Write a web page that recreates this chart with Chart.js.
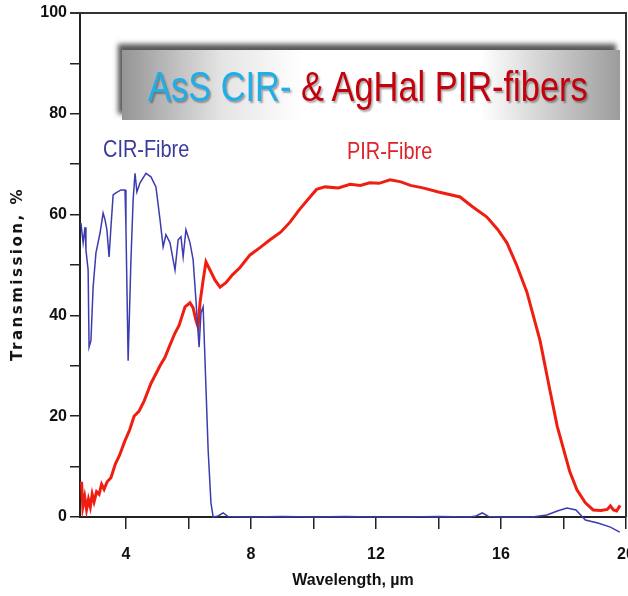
<!DOCTYPE html>
<html>
<head>
<meta charset="utf-8">
<script src="https://cdn.jsdelivr.net/npm/chart.js@4.4.1/dist/chart.umd.min.js"></script>
<style>
  html, body { margin: 0; padding: 0; background: #fff; overflow: hidden; }
  #wrap { position: relative; width: 660px; height: 596px; }
  #banner {
    position: absolute; left: 122px; top: 50px; width: 498px; height: 70px;
    background: linear-gradient(to right, #959595 0%, #e4e4e4 20%, #ffffff 36%, #ffffff 72%, #9c9c9c 100%);
    box-shadow: -4px -6px 5px rgba(70, 70, 70, 0.9);
    overflow: hidden;
  }
  #banner .txt {
    position: absolute; left: 26px; top: 0; line-height: 72px;
    font-family: 'Liberation Sans', Arial, sans-serif; font-size: 43px; white-space: nowrap;
    transform: scaleX(0.8); transform-origin: 0 0;
    text-shadow: 2px 2px 2px rgba(0, 0, 0, 0.35);
  }
  #banner .cir { color: #1eaee8; }
  #banner .pir { color: #c4000c; }
  .lbl {
    position: absolute; font-family: 'Liberation Sans', Arial, sans-serif;
    font-size: 24px; line-height: 24px; white-space: nowrap;
    transform: scaleX(0.83); transform-origin: 0 0;
  }
  #ytitle {
    position: absolute; left: 17px; top: 274px;
    transform: translate(-50%, -50%) rotate(-90deg);
    font-family: 'DejaVu Sans', sans-serif; font-weight: bold; font-size: 15px;
    letter-spacing: 2.5px; white-space: nowrap; color: #111;
  }
</style>
</head>
<body>
<div id="wrap">
  <canvas id="chart" width="660" height="596"></canvas>
  <div id="banner"><div class="txt"><span class="cir">AsS CIR-</span> <span class="pir">&amp; AgHal PIR-fibers</span></div></div>
  <div class="lbl" style="left:103px; top:137px; color:#3b3b9e;">CIR-Fibre</div>
  <div class="lbl" style="left:347px; top:139px; color:#e0202a;">PIR-Fibre</div>
  <div id="ytitle">Transmission, %</div>
</div>
<script>
// PIR fibre (AgHal) - wavelength in um, transmission in %
const pirWl = [2.58, 2.62, 2.68, 2.74, 2.80, 2.86, 2.92, 2.98, 3.06, 3.14, 3.22, 3.30, 3.40, 3.52, 3.66, 3.80,
  3.96, 4.12, 4.26, 4.42, 4.58, 4.80, 5.09, 5.25, 5.40, 5.57, 5.70, 5.89, 6.05, 6.15, 6.24, 6.31, 6.37, 6.47,
  6.56, 6.69, 6.85, 7.01, 7.20, 7.40, 7.65, 7.97, 8.30, 8.61, 8.95, 9.25, 9.55, 9.89, 10.10, 10.37, 10.80,
  11.17, 11.50, 11.80, 12.10, 12.45, 12.80, 13.10, 13.50, 14.00, 14.69, 15.10, 15.55, 15.90, 16.19, 16.50,
  16.83, 17.25, 17.57, 17.80, 17.99, 18.20, 18.43, 18.70, 18.95, 19.20, 19.40, 19.50, 19.60, 19.70, 19.81];
const pirT = [7, 2, 4, 1.5, 3.5, 2, 4.5, 3, 5, 4.5, 6.5, 5.5, 7, 7.8, 10.5, 12.3,
  15, 17.3, 20, 21, 23, 26.5, 30, 31.7, 34, 36.5, 38, 41.7, 42.5, 41.5, 39, 37.7, 42.5, 47,
  50.6, 49, 47, 45.6, 46.5, 48, 49.5, 52, 53.5, 55, 56.5, 58.5, 61, 63.5, 65, 65.5, 65.3,
  66, 65.8, 66.3, 66.2, 66.9, 66.5, 65.8, 65.3, 64.5, 63.5, 61.5, 59.5, 57, 54.4, 50,
  44.6, 35, 25, 18, 13.7, 9, 5.4, 2.8, 1.4, 1.3, 1.5, 2.2, 1.4, 1.2, 2.3];

// CIR fibre (AsS)
const cirWl = [2.56, 2.63, 2.69, 2.72, 2.79, 2.82, 2.88, 2.95, 3.04, 3.17, 3.27, 3.33, 3.39, 3.46, 3.52, 3.59,
  3.68, 3.84, 3.97, 4.00, 4.07, 4.16, 4.23, 4.29, 4.35, 4.45, 4.64, 4.80, 4.96, 5.09, 5.19, 5.28, 5.41, 5.51,
  5.57, 5.67, 5.76, 5.83, 5.92, 6.05, 6.15, 6.24, 6.34, 6.40, 6.47, 6.53, 6.63, 6.72, 6.79, 6.95, 7.11, 7.27,
  8.0, 9.0, 10.0, 11.0, 12.0, 13.0, 14.0, 15.0, 15.2, 15.4, 15.6, 16.0, 17.0, 17.47, 17.8, 18.11, 18.4,
  18.7, 19.1, 19.5, 19.8];
const cirT = [58.3, 54.4, 57.5, 53, 49, 33.7, 35, 45.6, 52.4, 56.3, 60.3, 59, 57, 51.6, 57.5, 63.9,
  64.3, 64.9, 64.9, 57.5, 31, 51, 62.9, 68.2, 64.5, 66.3, 68.2, 67.5, 65.5, 59, 53.6, 56, 54.4, 51,
  49, 55, 55.6, 51.6, 57, 54.4, 51, 43, 33.7, 40.5, 41.7, 31, 13.3, 2.8, 0, 0.2, 0.8, 0.1,
  0, 0.1, 0, 0.1, 0, 0, 0.1, 0, 0.2, 0.8, 0.1, 0, 0, 0.4, 1.2, 1.8, 1.4,
  -0.6, -1.2, -2, -3];

const xTickValues = [4, 6, 8, 10, 12, 14, 16, 18, 20];
const xLabelValues = [4, 8, 12, 16, 20];
const yLabelValues = [0, 20, 40, 60, 80, 100];

const tickFont = { family: "'Liberation Sans', Arial, sans-serif", weight: 'bold', size: 16 };

// frame on top and right of the plot area
const framePlugin = {
  id: 'frame',
  afterDraw(chart) {
    const { ctx, chartArea: a } = chart;
    ctx.save();
    ctx.strokeStyle = '#333';
    ctx.lineWidth = 2;
    ctx.beginPath();
    ctx.moveTo(a.left - 10, a.top);
    ctx.lineTo(a.right, a.top);
    ctx.lineTo(a.right, a.bottom);
    ctx.stroke();
    ctx.restore();
  }
};

const ctx = document.getElementById('chart').getContext('2d');
new Chart(ctx, {
  type: 'line',
  data: {
    datasets: [{
      label: 'CIR-Fibre',
      data: cirWl.map((x, i) => ({ x: x, y: cirT[i] })),
      borderColor: '#3c3cb0',
      borderWidth: 1.5,
      pointRadius: 0,
      tension: 0,
      clip: false
    }, {
      label: 'PIR-Fibre',
      data: pirWl.map((x, i) => ({ x: x, y: pirT[i] })),
      borderColor: '#f01e10',
      borderWidth: 3,
      pointRadius: 0,
      tension: 0
    }]
  },
  options: {
    responsive: false,
    animation: false,
    devicePixelRatio: 1,
    layout: { padding: { top: 13, right: 34, left: 0, bottom: 0 } },
    plugins: {
      legend: { display: false },
      tooltip: { enabled: false }
    },
    scales: {
      x: {
        type: 'linear',
        min: 2.53,
        max: 20,
        afterBuildTicks: axis => { axis.ticks = xTickValues.map(v => ({ value: v })); },
        afterFit: s => { s.height = 79; },
        ticks: {
          autoSkip: false,
          maxRotation: 0,
          padding: 16,
          color: '#111',
          font: tickFont,
          callback: v => xLabelValues.includes(v) ? String(v) : ''
        },
        grid: { drawOnChartArea: false, drawTicks: true, tickLength: 12, color: '#222', lineWidth: 1.5 },
        border: { display: true, color: '#222', width: 2 },
        title: {
          display: true,
          text: 'Wavelength, µm',
          color: '#111',
          font: tickFont,
          padding: { top: 0, bottom: 6 }
        }
      },
      y: {
        min: 0,
        max: 100,
        afterFit: s => { s.width = 80; },
        ticks: {
          stepSize: 10,
          padding: 3,
          color: '#111',
          font: tickFont,
          callback: v => yLabelValues.includes(v) ? String(v) : ''
        },
        grid: { drawOnChartArea: false, drawTicks: true, tickLength: 10, color: '#222', lineWidth: 1.5 },
        border: { display: true, color: '#222', width: 2 }
      }
    }
  },
  plugins: [framePlugin]
});
</script>
</body>
</html>
